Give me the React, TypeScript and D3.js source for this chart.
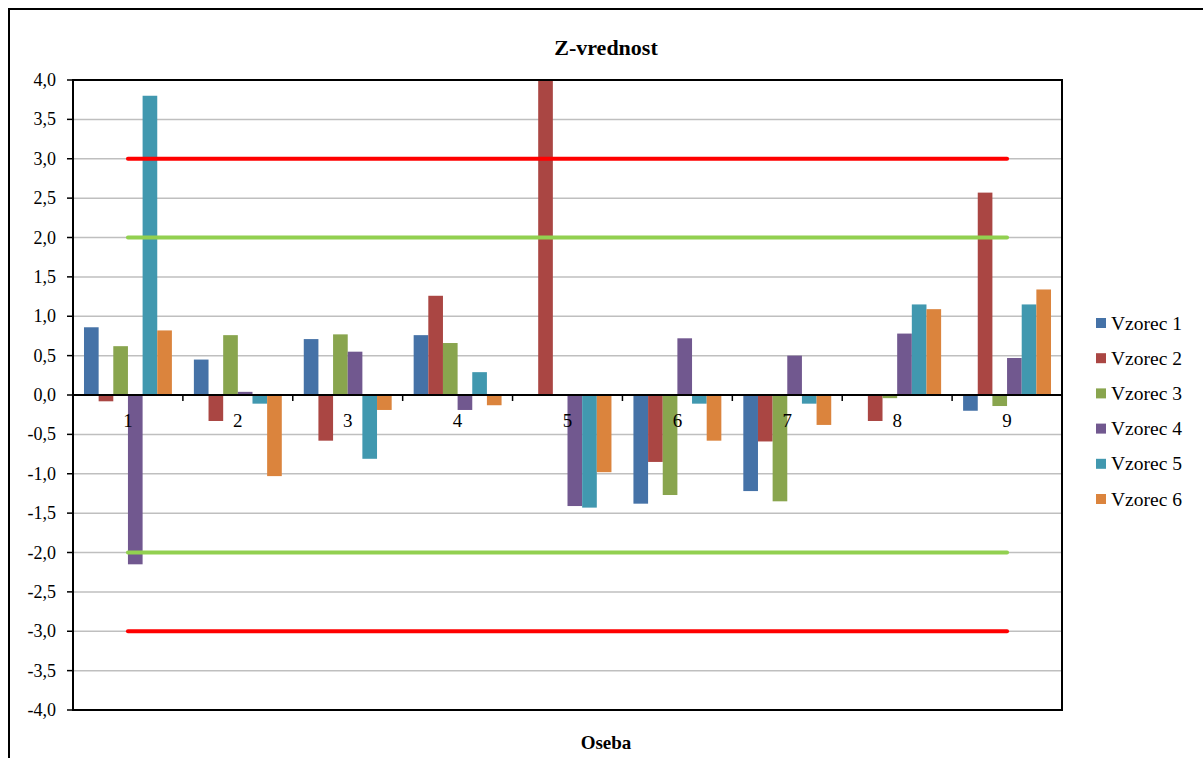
import React from "react";
import * as d3 from "d3";

const categories = ["1", "2", "3", "4", "5", "6", "7", "8", "9"];
const seriesNames = ["Vzorec 1", "Vzorec 2", "Vzorec 3", "Vzorec 4", "Vzorec 5", "Vzorec 6"];
const vzorec1 = [0.86, 0.45, 0.71, 0.76, 0, -1.38, -1.22, 0, -0.2];
const vzorec2 = [-0.08, -0.33, -0.58, 1.26, 4.0, -0.85, -0.59, -0.33, 2.57];
const vzorec3 = [0.62, 0.76, 0.77, 0.66, 0, -1.27, -1.35, -0.04, -0.14];
const vzorec4 = [-2.15, 0.04, 0.55, -0.19, -1.41, 0.72, 0.5, 0.78, 0.47];
const vzorec5 = [3.8, -0.11, -0.81, 0.29, -1.43, -0.11, -0.11, 1.15, 1.15];
const vzorec6 = [0.82, -1.03, -0.19, -0.13, -0.98, -0.58, -0.38, 1.09, 1.34];
const seriesValues = [vzorec1, vzorec2, vzorec3, vzorec4, vzorec5, vzorec6];
const seriesColors = ["#4572A7", "#AA4643", "#89A54E", "#71588F", "#4198AF", "#DB843D"];
const limitLines = [
  { value: 3, color: "#FF0000" },
  { value: -3, color: "#FF0000" },
  { value: 2, color: "#92D050" },
  { value: -2, color: "#92D050" },
];
const yTicks = d3.range(-4, 4.001, 0.5);

const W = 1203;
const H = 758;
const FONT = "'Liberation Serif', 'Times New Roman', 'DejaVu Serif', serif";
const ts = { fontFamily: FONT };

export default function App() {
  const left = 73;
  const right = 1062;
  const top = 80;
  const bottom = 710;
  const titleX = 606;

  const y = d3.scaleLinear().domain([-4, 4]).range([bottom, top]);
  const x0 = d3.scaleBand().domain(categories).range([left, right]).paddingInner(0).paddingOuter(0);
  const bw = x0.bandwidth();
  const barW = bw / 7.5;
  const x1 = d3
    .scaleBand()
    .domain(seriesNames)
    .range([bw / 2 - 3 * barW, bw / 2 + 3 * barW])
    .padding(0);

  const fmt = (v: number) => d3.format(".1f")(v).replace(".", ",").replace("−", "-");
  const xc = (c: string) => (x0(c) as number) + bw / 2;

  const lineGen = d3.line<string>().x((c) => xc(c));

  return (
    <svg width={W} height={H} style={{ position: "absolute", left: 0, top: 0, background: "#fff", fontFamily: FONT }}>
      <rect x={9} y={9} width={W + 20} height={H + 20} fill="#fff" stroke="#000" strokeWidth={2} />

      {yTicks.map((t) => (
        <line key={"g" + t} x1={left} x2={right} y1={y(t)} y2={y(t)} stroke="#BFBFBF" strokeWidth={1.5} />
      ))}

      {seriesValues.map((vals, si) =>
        vals.map((v, ci) => {
          const c = categories[ci];
          const xx = (x0(c) as number) + (x1(seriesNames[si]) as number);
          const y0 = y(0);
          const yv = y(v);
          return (
            <rect
              key={`b${si}-${ci}`}
              x={xx}
              y={Math.min(y0, yv)}
              width={x1.bandwidth()}
              height={Math.abs(yv - y0)}
              fill={seriesColors[si]}
            />
          );
        })
      )}

      {limitLines.map((l, i) => (
        <path
          key={"l" + i}
          d={lineGen.y(() => y(l.value))(categories) as string}
          stroke={l.color}
          strokeWidth={4}
          strokeLinecap="round"
          fill="none"
        />
      ))}

      <rect x={left} y={top} width={right - left} height={bottom - top} fill="none" stroke="#000" strokeWidth={2} />

      <line x1={left} x2={right} y1={y(0)} y2={y(0)} stroke="#000" strokeWidth={2} />
      {categories.map((c, i) => (
        <line key={"xt" + i} x1={x0(c) as number} x2={x0(c) as number} y1={y(0)} y2={y(0) + 6} stroke="#000" strokeWidth={1.5} />
      ))}
      {categories.map((c) => (
        <text key={"xl" + c} x={xc(c)} y={y(0) + 32} textAnchor="middle" fontSize={19} fill="#000" style={ts}>
          {c}
        </text>
      ))}

      {yTicks.map((t) => (
        <g key={"yt" + t}>
          <line x1={left - 6} x2={left} y1={y(t)} y2={y(t)} stroke="#000" strokeWidth={1.5} />
          <text x={56} y={y(t) + 6} textAnchor="end" fontSize={18} fill="#000" style={ts}>
            {fmt(t)}
          </text>
        </g>
      ))}

      <text x={titleX} y={55} textAnchor="middle" fontSize={22} fontWeight="bold" fill="#000" style={ts}>
        Z-vrednost
      </text>
      <text x={titleX} y={749} textAnchor="middle" fontSize={19} fontWeight="bold" fill="#000" style={ts}>
        Oseba
      </text>

      {seriesNames.map((n, i) => (
        <g key={"lg" + n} transform={`translate(1096, ${323 + i * 35.2})`}>
          <rect x={0} y={-5} width={10} height={10} fill={seriesColors[i]} />
          <text x={15} y={6.5} fontSize={19.5} fill="#000" style={ts}>
            {n}
          </text>
        </g>
      ))}
    </svg>
  );
}
